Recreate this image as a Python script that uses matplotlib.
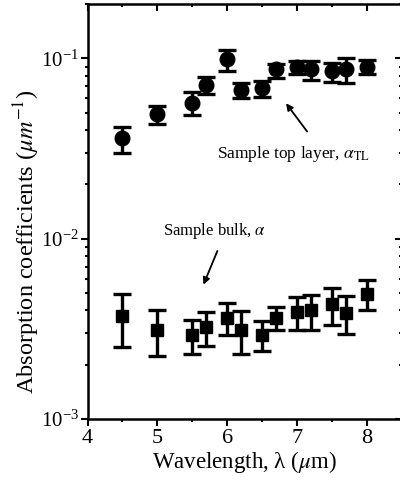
import matplotlib
matplotlib.use("Agg")
import matplotlib.pyplot as plt
from matplotlib.ticker import LogLocator, MultipleLocator, NullFormatter
import numpy as np

plt.rcParams['font.family'] = ['Liberation Serif', 'DejaVu Serif']
plt.rcParams['mathtext.fontset'] = 'stix'

# Longitudes de onda (um)
wl = [4.5, 5.0, 5.5, 5.7, 6.0, 6.2, 6.5, 6.7, 7.0, 7.2, 7.5, 7.7, 8.0]

# Capa superior (circulos)
top_val = [0.0361, 0.0491, 0.0569, 0.0712, 0.0987, 0.0665, 0.0683,
           0.0869, 0.0899, 0.0869, 0.0850, 0.0869, 0.0899]
top_hi = [0.0419, 0.0545, 0.0654, 0.0788, 0.1107, 0.0727, 0.0750,
          0.0927, 0.0966, 0.0966, 0.0946, 0.1000, 0.0975]
top_lo = [0.0297, 0.0432, 0.0484, 0.0632, 0.0850, 0.0601, 0.0614,
          0.0781, 0.0822, 0.0756, 0.0739, 0.0727, 0.0822]

# Volumen (cuadrados)
bulk_val = [0.00372, 0.00311, 0.00292, 0.00325, 0.00361, 0.00311, 0.00292,
            0.00361, 0.00393, 0.00402, 0.00434, 0.00388, 0.00492]
bulk_hi = [0.00492, 0.00402, 0.00354, 0.00393, 0.00438, 0.00398, 0.00351,
           0.00416, 0.00475, 0.00486, 0.00530, 0.00480, 0.00589]
bulk_lo = [0.00252, 0.00224, 0.00230, 0.00254, 0.00292, 0.00230, 0.00237,
           0.00311, 0.00311, 0.00311, 0.00332, 0.00296, 0.00402]


def barras(val, hi, lo):
    val = np.array(val)
    return [val - np.array(lo), np.array(hi) - val]


fig = plt.figure(figsize=(4.0, 4.83), dpi=100)
ax = fig.add_axes([0.219, 0.1325, 0.785, 0.859])

ax.errorbar(wl, top_val, yerr=barras(top_val, top_hi, top_lo), fmt='o',
            color='black', ms=10.5, elinewidth=2.4, capsize=6.5, capthick=2.4)
ax.errorbar(wl, bulk_val, yerr=barras(bulk_val, bulk_hi, bulk_lo), fmt='s',
            color='black', ms=9, elinewidth=2.4, capsize=6.5, capthick=2.4)

ax.set_yscale('log')
ax.set_xlim(4, 8.5)
ax.set_ylim(1e-3, 0.2)

ax.xaxis.set_major_locator(MultipleLocator(1))
ax.xaxis.set_minor_locator(MultipleLocator(0.5))
ax.yaxis.set_major_locator(LogLocator(base=10))
ax.yaxis.set_minor_locator(LogLocator(base=10, subs=np.arange(2, 10)))
ax.yaxis.set_minor_formatter(NullFormatter())

ax.tick_params(axis='both', which='both', width=1.5)
ax.tick_params(axis='x', labelsize=16)
ax.tick_params(axis='y', labelsize=15)
ax.tick_params(axis='both', which='major', length=5)
ax.tick_params(axis='both', which='minor', length=2.5)
ax.tick_params(axis='x', which='both', top=True, direction='out', pad=2)
ax.tick_params(axis='y', which='both', right=True, direction='out', pad=1)
# Marcas de arriba y derecha hacia dentro
for t in ax.xaxis.get_ticklines(minor=False)[1::2] + ax.xaxis.get_ticklines(minor=True)[1::2]:
    t.set_marker(3)
for t in ax.yaxis.get_ticklines(minor=False)[1::2] + ax.yaxis.get_ticklines(minor=True)[1::2]:
    t.set_marker(0)

for s in ax.spines.values():
    s.set_linewidth(1.8)

ax.set_xlabel(r'Wavelength, λ ($\mu$m)', fontsize=16.5, labelpad=1)
ax.set_ylabel(r'Absorption coefficients ($\mu m^{-1}$)', fontsize=17.5)
ax.yaxis.set_label_coords(-0.145, 0.428)

ax.annotate('', xy=(6.82, 0.058), xytext=(7.17, 0.0382),
            arrowprops=dict(arrowstyle='-|>', color='black', lw=1.3,
                            mutation_scale=10))
ax.text(5.86, 0.0296, r'Sample top layer, $\alpha_{\rm TL}$', fontsize=12.5,
        va='center', ha='left')

ax.annotate('', xy=(5.645, 0.00538), xytext=(5.875, 0.00883),
            arrowprops=dict(arrowstyle='-|>', color='black', lw=1.3,
                            mutation_scale=10))
ax.text(5.085, 0.0111, r'Sample bulk, $\alpha$', fontsize=12,
        va='center', ha='left')

fig.savefig('out.png', dpi=100)
